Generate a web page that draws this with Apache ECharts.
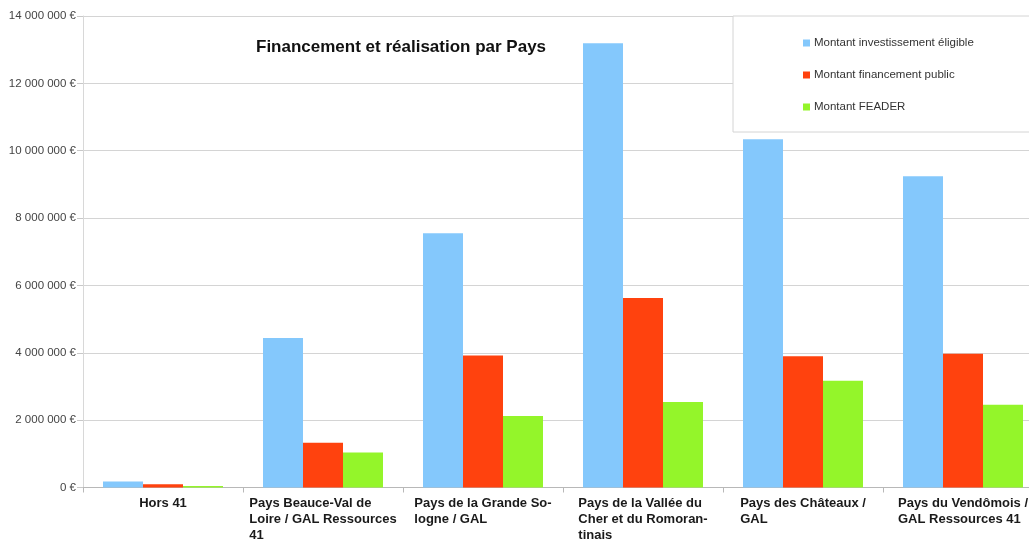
<!DOCTYPE html>
<html>
<head>
<meta charset="utf-8">
<script src="https://cdn.jsdelivr.net/npm/echarts@6/dist/echarts.min.js"></script>
<style>html,body{margin:0;padding:0;background:#fff;overflow:hidden;width:1029px;height:542px;}#c{width:1043px;height:542px;}</style>
</head>
<body>
<div id="c"></div>
<script>
const categories = [
  'Hors 41',
  'Pays Beauce-Val de\nLoire / GAL Ressources\n41',
  'Pays de la Grande So-\nlogne / GAL',
  'Pays de la Vallée du\nCher et du Romoran-\ntinais',
  'Pays des Châteaux /\nGAL',
  'Pays du Vendômois /\nGAL Ressources 41'
];
const seriesNames = ['Montant investissement éligible', 'Montant financement public', 'Montant FEADER'];
const investissement = [180000, 4440000, 7550000, 13190000, 10340000, 9240000];
const financementPublic = [95000, 1330000, 3920000, 5630000, 3900000, 3970000];
const feader = [45000, 1040000, 2120000, 2540000, 3170000, 2460000];
const yTicks = { min: 0, max: 14000000, interval: 2000000 };

const colors = ['#84c8fc', '#ff420e', '#94f52a'];
const font = '"Liberation Sans", Arial, sans-serif';

function fmtEuro(v) {
  return String(Math.round(v)).replace(/\B(?=(\d{3})+(?!\d))/g, ' ') + ' €';
}

const chart = echarts.init(document.getElementById('c'), null, { renderer: 'canvas' });
chart.setOption({
  animation: false,
  backgroundColor: '#fff',
  textStyle: { fontFamily: font },
  title: {
    text: 'Financement et réalisation par Pays',
    left: 251,
    top: 34,
    textStyle: { fontFamily: font, fontSize: 17, fontWeight: 'bold', color: '#111' },
    z: 2
  },
  graphic: [
    { type: 'rect', shape: { x: 250, y: 55, width: 300, height: 8 }, style: { fill: '#fff' }, z: 100 }
  ],
  legend: {
    orient: 'vertical',
    left: 733,
    top: 16,
    padding: [21, 80, 19, 70],
    itemWidth: 7,
    itemHeight: 7,
    itemGap: 20,
    icon: 'rect',
    backgroundColor: '#fff',
    borderColor: '#d4d4d4',
    borderWidth: 1,
    textStyle: { fontFamily: font, fontSize: 11.5, color: '#333', padding: [0, 0, 0, -1] },
    data: seriesNames
  },
  grid: { left: 83, top: 16, right: 0, bottom: 53, containLabel: false },
  xAxis: {
    type: 'category',
    data: categories,
    axisLine: { lineStyle: { color: '#b8b8b8' } },
    axisTick: { show: true, length: 5, lineStyle: { color: '#b8b8b8' } },
    axisLabel: {
      interval: 0,
      margin: 8,
      align: 'center',
      formatter: function (v) {
        return v.split('\n').map(function (l) { return '{a|' + l + '}'; }).join('\n');
      },
      rich: {
        a: { fontFamily: font, fontSize: 13, fontWeight: 'bold', color: '#1a1a1a', align: 'left', lineHeight: 16 }
      }
    }
  },
  yAxis: {
    type: 'value',
    min: yTicks.min,
    max: yTicks.max,
    interval: yTicks.interval,
    axisLine: { show: true, lineStyle: { color: '#d8d8d8' } },
    axisTick: { show: true, length: 6, lineStyle: { color: '#c8c8c8' } },
    splitLine: { lineStyle: { color: '#d4d4d4' } },
    axisLabel: { margin: 7, fontFamily: font, fontSize: 11.5, color: '#444', formatter: fmtEuro }
  },
  series: [
    { name: seriesNames[0], type: 'bar', data: investissement, itemStyle: { color: colors[0] }, barGap: '0%', barCategoryGap: '25%' },
    { name: seriesNames[1], type: 'bar', data: financementPublic, itemStyle: { color: colors[1] }, barGap: '0%', barCategoryGap: '25%' },
    { name: seriesNames[2], type: 'bar', data: feader, itemStyle: { color: colors[2] }, barGap: '0%', barCategoryGap: '25%' }
  ]
});
</script>
</body>
</html>
